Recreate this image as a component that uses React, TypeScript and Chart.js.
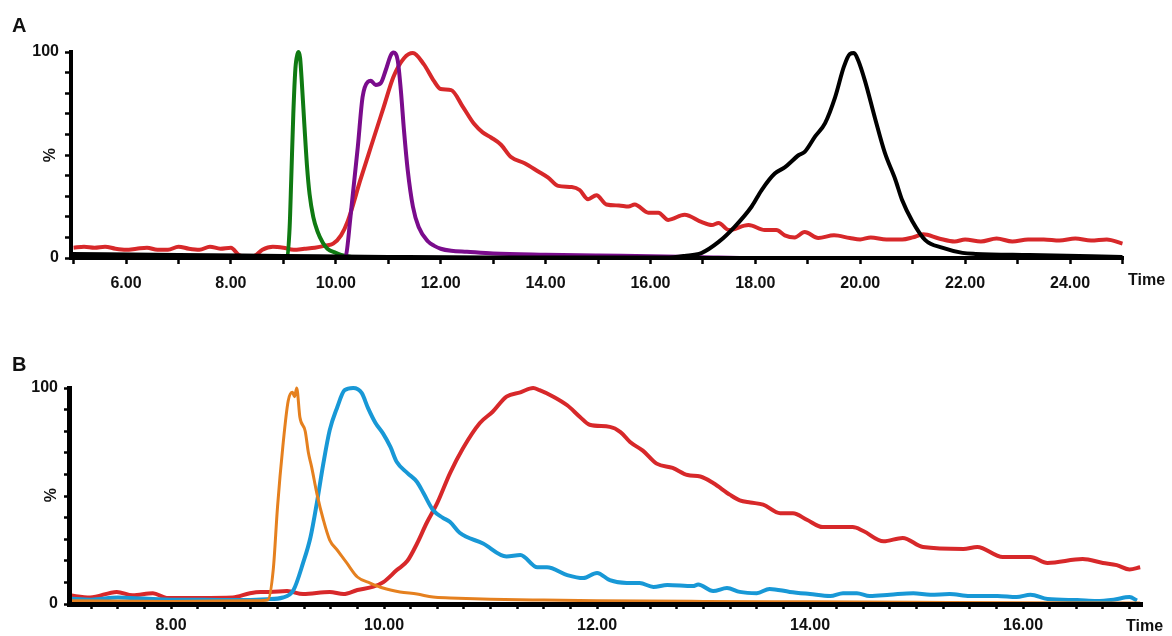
import React, { useEffect, useRef } from "react";
import { Chart, registerables } from "chart.js";

Chart.register(...registerables);

const FONT_FAMILY = '"Liberation Sans", Arial, Helvetica, sans-serif';

// ---- Panel A traces: [time (min), relative intensity (%)] ----
const redTraceA: [number, number][] = [
  [5.0, 5], [5.2, 5.5], [5.4, 5], [5.6, 5.5], [5.8, 4.5], [6.0, 4], [6.2, 4.5], [6.4, 5],
  [6.6, 4], [6.8, 4], [7.0, 5.5], [7.2, 4.5], [7.4, 4], [7.6, 5.5], [7.8, 4.5], [8.0, 5],
  [8.15, 1.5], [8.3, 0.5], [8.45, 1], [8.6, 4], [8.8, 5.5], [9.0, 5], [9.2, 4], [9.4, 4.5],
  [9.6, 5], [9.8, 6], [9.95, 7], [10.1, 11], [10.23, 18], [10.47, 38], [10.67, 54],
  [10.91, 73], [11.1, 88], [11.3, 97], [11.47, 99.5], [11.68, 94], [11.87, 86], [12.0, 82],
  [12.2, 81.5], [12.42, 73.5], [12.64, 65], [12.8, 61], [12.96, 58.5], [13.15, 55],
  [13.34, 49], [13.6, 46], [13.86, 42], [14.05, 39], [14.24, 35], [14.5, 34.5], [14.65, 33],
  [14.81, 28.5], [14.97, 30.5], [15.16, 26], [15.4, 25.5], [15.58, 25], [15.7, 26],
  [15.96, 22], [16.15, 22], [16.34, 18.5], [16.65, 21], [16.97, 17.5], [17.17, 16],
  [17.3, 17], [17.49, 13.6], [17.87, 16], [18.18, 13.6], [18.4, 13.6], [18.56, 11],
  [18.75, 10], [18.94, 12.6], [19.2, 9.7], [19.5, 11], [19.8, 9.7], [20.0, 9], [20.2, 10],
  [20.5, 9], [20.8, 9], [21.0, 10], [21.2, 11.5], [21.5, 9.5], [21.8, 8], [22.0, 9],
  [22.3, 8], [22.6, 9.5], [22.9, 8], [23.2, 9], [23.5, 9], [23.8, 8.5], [24.1, 9.5],
  [24.4, 8.5], [24.7, 9], [25.0, 7],
];

const greenTraceA: [number, number][] = [
  [4.95, 0], [9.0, 0], [9.07, 0.5], [9.12, 15], [9.15, 38], [9.19, 70], [9.23, 92],
  [9.27, 99], [9.29, 100], [9.32, 97], [9.36, 82], [9.4, 65], [9.45, 45], [9.5, 31],
  [9.57, 20], [9.65, 13], [9.75, 7.5], [9.84, 4.5], [10.0, 2.5], [10.1, 1.5], [10.3, 0.5],
  [10.6, 0], [25.0, 0],
];

const purpleTraceA: [number, number][] = [
  [4.95, 0], [10.12, 0], [10.19, 1], [10.28, 20], [10.42, 54], [10.51, 78], [10.61, 85.5],
  [10.67, 86], [10.76, 84], [10.86, 85], [10.95, 91], [11.05, 98.5], [11.1, 99.7],
  [11.18, 96], [11.24, 81.5], [11.3, 62], [11.37, 43], [11.47, 25], [11.58, 15],
  [11.76, 8], [11.87, 6], [12.0, 4.5], [12.2, 3.5], [12.5, 3], [13.0, 2.2], [14.0, 1.6],
  [15.0, 1.2], [16.0, 0.9], [17.0, 0.4], [18.0, 0], [25.0, 0],
];

const blackTraceA: [number, number][] = [
  [4.95, 2], [7.0, 1.5], [9.0, 1], [11.0, 0.5], [13.0, 0.2], [16.3, 0.2], [16.65, 1],
  [16.97, 2.4], [17.3, 7.8], [17.6, 15], [17.93, 25], [18.12, 33], [18.37, 41], [18.56, 44],
  [18.83, 50], [18.94, 51.5], [19.14, 59], [19.33, 65.5], [19.52, 78], [19.69, 93],
  [19.8, 99], [19.88, 99.5], [19.96, 96], [20.09, 86], [20.28, 68], [20.47, 51],
  [20.67, 38], [20.8, 28], [20.99, 18], [21.24, 8.7], [21.56, 5], [21.95, 2.5], [22.2, 2],
  [23.23, 1.4], [25.0, 0.5],
];

// ---- Panel B traces ----
const orangeTraceB: [number, number][] = [
  [7.04, 1.5], [8.0, 1.2], [8.8, 1.5], [8.91, 2], [8.96, 16], [9.0, 45], [9.05, 73],
  [9.1, 94], [9.14, 98], [9.16, 96], [9.18, 100], [9.21, 86.5], [9.26, 80], [9.29, 70],
  [9.32, 63.5], [9.37, 51], [9.43, 39], [9.49, 29.6], [9.56, 25], [9.65, 19], [9.75, 12.5],
  [9.87, 9.7], [9.99, 7.4], [10.15, 5.6], [10.31, 4.6], [10.46, 3.2], [10.62, 2.8],
  [11.0, 2.2], [11.5, 1.8], [12.0, 1.5], [13.0, 1.2], [14.0, 1], [15.0, 0.8], [16.0, 0.6],
  [17.1, 0.5],
];

const blueTraceB: [number, number][] = [
  [7.04, 2.5], [7.25, 2], [7.5, 3], [7.75, 2.5], [8.0, 2], [8.3, 2], [8.6, 1.8], [8.9, 2.2],
  [9.05, 3], [9.15, 6.5], [9.24, 19], [9.31, 31], [9.37, 47], [9.43, 65], [9.49, 80.5],
  [9.56, 91], [9.63, 99], [9.71, 100], [9.79, 97.7], [9.85, 90.7], [9.92, 83.8], [9.99, 79],
  [10.06, 72.7], [10.12, 65.7], [10.22, 60.6], [10.31, 56.5], [10.37, 51.4], [10.46, 43.5],
  [10.55, 40], [10.62, 38], [10.71, 33], [10.93, 28], [11.15, 22], [11.28, 22.7],
  [11.44, 17], [11.53, 17], [11.72, 13.4], [11.87, 12], [12.0, 14.4], [12.12, 11],
  [12.28, 9.7], [12.4, 9.7], [12.53, 7.9], [12.66, 8.8], [12.9, 8.3], [12.95, 9],
  [13.09, 6], [13.22, 7.4], [13.34, 5.6], [13.5, 5], [13.62, 7], [13.81, 5.6], [14.0, 4.6],
  [14.19, 3.7], [14.31, 5], [14.44, 5], [14.56, 3.7], [14.75, 4.3], [14.97, 5],
  [15.13, 4.3], [15.31, 4.6], [15.5, 3.7], [15.76, 3.7], [15.94, 3.2], [16.07, 4.3],
  [16.23, 2.3], [16.51, 1.8], [16.69, 1.4], [16.85, 2], [17.0, 3.2], [17.07, 1.6],
];

const redTraceB: [number, number][] = [
  [7.04, 4], [7.24, 3], [7.49, 5.6], [7.64, 4], [7.83, 5], [7.96, 2.8], [8.27, 2.8],
  [8.58, 3], [8.74, 5], [8.84, 5.6], [8.93, 5.6], [9.09, 6], [9.24, 4.6], [9.49, 5.6],
  [9.62, 4.6], [9.75, 6.5], [9.9, 8], [9.99, 10], [10.12, 15.7], [10.22, 20], [10.31, 28],
  [10.4, 37.5], [10.5, 46.8], [10.62, 60.6], [10.74, 72], [10.9, 83.8], [11.02, 89],
  [11.15, 96], [11.28, 98], [11.4, 100], [11.46, 99], [11.59, 96], [11.72, 92],
  [11.84, 86.6], [11.93, 83], [12.12, 82], [12.22, 79.6], [12.31, 75], [12.43, 71],
  [12.56, 65], [12.71, 63], [12.85, 59.7], [12.97, 59], [13.09, 56], [13.25, 50.5],
  [13.34, 48], [13.44, 47], [13.56, 46], [13.72, 42], [13.84, 42], [13.97, 39],
  [14.12, 35.6], [14.4, 35.6], [14.5, 33.8], [14.69, 29], [14.87, 30.6], [15.06, 26.4],
  [15.44, 25.5], [15.57, 26.4], [15.81, 21.8], [16.07, 21.8], [16.23, 19], [16.56, 20.8],
  [16.75, 19], [16.88, 18], [17.0, 16], [17.1, 17],
];

// ---- Axis ticks ----
const yTickValues = [0, 10, 20, 30, 40, 50, 60, 70, 80, 90, 100];
const yLabelValues = [0, 100];
const xTicksA = [5, 6, 7, 8, 9, 10, 11, 12, 13, 14, 15, 16, 17, 18, 19, 20, 21, 22, 23, 24, 25];
const xLabelsA = [6, 8, 10, 12, 14, 16, 18, 20, 22, 24];
const xTicksB = [
  7.25, 7.5, 7.75, 8, 8.25, 8.5, 8.75, 9, 9.25, 9.5, 9.75, 10, 10.25, 10.5, 10.75, 11,
  11.25, 11.5, 11.75, 12, 12.25, 12.5, 12.75, 13, 13.25, 13.5, 13.75, 14, 14.25, 14.5,
  14.75, 15, 15.25, 15.5, 15.75, 16, 16.25, 16.5, 16.75, 17,
];
const xLabelsB = [8, 10, 12, 14, 16];

const RED = "#d7282a";
const GREEN = "#0f7a12";
const PURPLE = "#7a0c8c";
const BLACK = "#000000";
const ORANGE = "#e5801f";
const BLUE = "#1898d6";

type Trace = { points: [number, number][]; color: string; width: number };

type PanelProps = {
  top: number;
  height: number;
  area: { left: number; right: number; top: number; bottom: number };
  xMin: number;
  xMax: number;
  xTicks: number[];
  xLabels: number[];
  traces: Trace[];
  xBorder: number;
  yBorder: number;
  xTickLen: number;
  yTickLen: number;
  xLabelPad: number;
};

const WIDTH = 1172;

function Panel(p: PanelProps) {
  const ref = useRef<HTMLCanvasElement | null>(null);

  useEffect(() => {
    if (!ref.current) return;
    const tickFont = { family: FONT_FAMILY, size: 16, weight: "bold" as const };
    const chart = new Chart(ref.current, {
      type: "line",
      data: {
        datasets: p.traces.map((t, i) => ({
          data: t.points.map(([x, y]) => ({ x, y })),
          borderColor: t.color,
          borderWidth: t.width,
          pointRadius: 0,
          fill: false,
          cubicInterpolationMode: "monotone" as const,
          order: i,
          clip: false as const,
        })),
      },
      options: {
        animation: false,
        responsive: false,
        devicePixelRatio: 1,
        layout: {
          padding: { left: 0, top: p.area.top, right: WIDTH - p.area.right, bottom: 0 },
        },
        plugins: { legend: { display: false }, tooltip: { enabled: false } },
        scales: {
          x: {
            type: "linear",
            min: p.xMin,
            max: p.xMax,
            afterFit: (s: any) => {
              s.height = p.height - p.area.bottom;
            },
            afterBuildTicks: (s: any) => {
              s.ticks = p.xTicks.map((v) => ({ value: v }));
            },
            ticks: {
              autoSkip: false,
              maxRotation: 0,
              minRotation: 0,
              padding: p.xLabelPad,
              color: "#111",
              font: tickFont,
              callback: (v: any) => (p.xLabels.includes(Number(v)) ? Number(v).toFixed(2) : ""),
            },
            grid: {
              display: true,
              drawOnChartArea: false,
              drawTicks: true,
              tickLength: p.xTickLen,
              tickWidth: 2.5,
              tickColor: "#000",
            },
            // axis line sits above the traces' baselines
            border: { display: true, color: "#000", width: p.xBorder, z: 1 },
          },
          y: {
            type: "linear",
            min: 0,
            max: 100,
            afterFit: (s: any) => {
              s.width = p.area.left;
            },
            afterBuildTicks: (s: any) => {
              s.ticks = yTickValues.map((v) => ({ value: v }));
            },
            ticks: {
              autoSkip: false,
              padding: 6,
              color: "#111",
              font: tickFont,
              callback: (v: any) => (yLabelValues.includes(Number(v)) ? String(v) : ""),
            },
            grid: {
              display: true,
              drawOnChartArea: false,
              drawTicks: true,
              tickLength: p.yTickLen,
              tickWidth: 2.5,
              tickColor: "#000",
            },
            border: { display: true, color: "#000", width: p.yBorder, z: 1 },
          },
        },
      },
    });
    return () => chart.destroy();
  }, []);

  return (
    <canvas
      ref={ref}
      width={WIDTH}
      height={p.height}
      style={{ position: "absolute", left: 0, top: p.top, display: "block" }}
    />
  );
}

const textBase: React.CSSProperties = {
  position: "absolute",
  fontFamily: FONT_FAMILY,
  fontWeight: "bold",
  color: "#111",
  lineHeight: 1,
  whiteSpace: "nowrap",
};

function Percent({ cx, cy }: { cx: number; cy: number }) {
  return (
    <div
      style={{
        ...textBase,
        fontSize: 16,
        left: cx - 10,
        top: cy - 8,
        width: 20,
        height: 16,
        textAlign: "center",
        transform: "rotate(-90deg)",
      }}
    >
      %
    </div>
  );
}

export default function App() {
  return (
    <div
      style={{
        position: "absolute",
        left: 0,
        top: 0,
        width: WIDTH,
        height: 636,
        background: "#fff",
        overflow: "hidden",
      }}
    >
      <Panel
        top={0}
        height={318}
        area={{ left: 71, right: 1123, top: 52, bottom: 258 }}
        xMin={4.951}
        xMax={25.01}
        xTicks={xTicksA}
        xLabels={xLabelsA}
        traces={[
          { points: blackTraceA, color: BLACK, width: 4 },
          { points: purpleTraceA, color: PURPLE, width: 4 },
          { points: greenTraceA, color: GREEN, width: 4 },
          { points: redTraceA, color: RED, width: 4 },
        ]}
        xBorder={4}
        yBorder={4}
        xTickLen={6}
        yTickLen={6}
        xLabelPad={10}
      />
      <Panel
        top={318}
        height={318}
        area={{ left: 69, right: 1142, top: 70, bottom: 286 }}
        xMin={7.042}
        xMax={17.117}
        xTicks={xTicksB}
        xLabels={xLabelsB}
        traces={[
          { points: orangeTraceB, color: ORANGE, width: 3 },
          { points: blueTraceB, color: BLUE, width: 4 },
          { points: redTraceB, color: RED, width: 4 },
        ]}
        xBorder={5}
        yBorder={5}
        xTickLen={5}
        yTickLen={5}
        xLabelPad={7}
      />
      <div style={{ ...textBase, fontSize: 20, left: 12, top: 15 }}>A</div>
      <div style={{ ...textBase, fontSize: 20, left: 12, top: 354 }}>B</div>
      <div style={{ ...textBase, fontSize: 16, left: 1128, top: 272 }}>Time</div>
      <div style={{ ...textBase, fontSize: 16, left: 1126, top: 618 }}>Time</div>
      <Percent cx={50} cy={155} />
      <Percent cx={51} cy={495} />
    </div>
  );
}
